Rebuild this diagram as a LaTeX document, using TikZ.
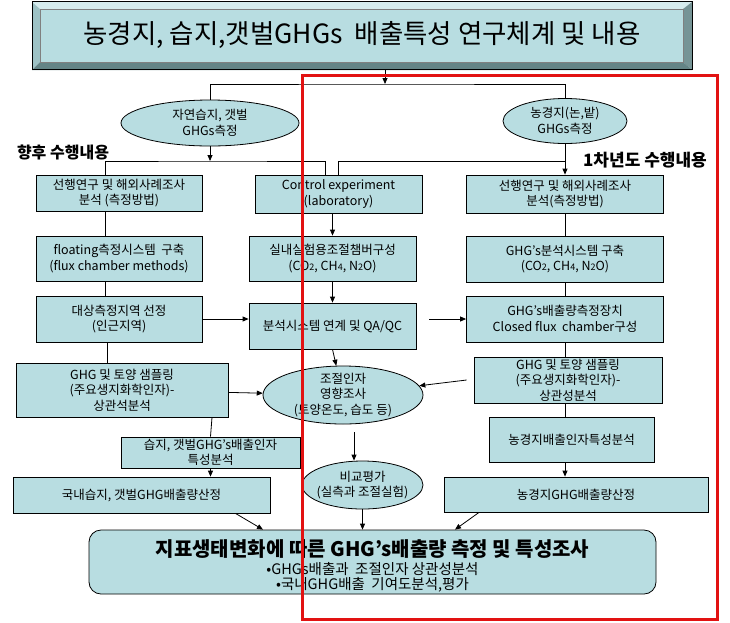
\documentclass[tikz,border=0pt]{standalone}
\usepackage{fontspec}
\setmainfont{Noto Sans CJK KR}
\usepackage{tikz}
\usetikzlibrary{arrows.meta,shapes.geometric,calc}

\definecolor{boxfill}{RGB}{184,221,225}
\definecolor{bevtop}{RGB}{214,236,238}
\definecolor{bevleft}{RGB}{158,194,197}
\definecolor{bevright}{RGB}{118,148,150}
\definecolor{bevbot}{RGB}{100,132,134}
\definecolor{markred}{RGB}{226,18,18}

\newcommand{\dig}[1]{{\fontsize{9}{9}\selectfont #1}}

\begin{document}
\begin{tikzpicture}[x=1pt,y=-1pt,line width=0.8pt,
  >={Triangle[length=6pt,width=5pt]},
  box/.style={draw, fill=boxfill, align=center, inner sep=0pt, font=\fontsize{12.5}{15.5}\selectfont},
  oval/.style={draw, fill=boxfill, ellipse, inner sep=0pt},
  ovaltext/.style={align=center, inner sep=0pt, font=\fontsize{12.5}{15.5}\selectfont},
  note/.style={inner sep=0pt, font=\bfseries}]
\useasboundingbox (0,0) rectangle (730,622);

% title plate
\fill[bevtop] (32,2) -- (692,2) -- (683,9) -- (40,9) -- cycle;
\fill[bevleft] (32,2) -- (40,9) -- (40,62) -- (32,70) -- cycle;
\fill[bevright] (692,2) -- (692,70) -- (683,62) -- (683,9) -- cycle;
\fill[bevbot] (32,70) -- (692,70) -- (683,62) -- (40,62) -- cycle;
\fill[boxfill] (40,9) rectangle (683,62);
\draw[line width=0.4pt, gray] (40,9) rectangle (683,62);
\node[draw, minimum width=660pt, minimum height=68pt, inner sep=0pt, font=\fontsize{26.5}{30}\selectfont] (title) at (362,35) {농경지, 습지,갯벌GHGs\ \ 배출특성 연구체계 및 내용};

\coordinate (jt) at (385,84);
\coordinate (jl) at (210,161);
\coordinate (jr) at (565,161);

\node[oval, minimum width=178pt, minimum height=46pt, label={[ovaltext]center:자연습지, 갯벌\\GHGs측정}] (EL) at (210,123) {};
\node[oval, minimum width=124pt, minimum height=45pt, label={[ovaltext]center:농경지(논,밭)\\GHGs측정}] (ER) at (565,121) {};

\node[note, font=\fontsize{16}{18}\selectfont\bfseries] (lnote) at (63,152) {향후 수행내용};
\node[note, font=\fontsize{17}{19}\selectfont\bfseries] (rnote) at (645,160) {1차년도 수행내용};

% left column
\node[box, minimum width=166pt, minimum height=36pt] (L1) at (119,193) {선행연구 및 해외사례조사\\분석 (측정방법)};
\node[box, minimum width=166pt, minimum height=45pt] (L2) at (119,258.5) {floating측정시스템\ \ 구축\\(flux chamber methods)};
\node[box, minimum width=166pt, minimum height=46pt] (L3) at (119,319) {대상측정지역 선정\\(인근지역)};
\node[box, minimum width=212pt, minimum height=54pt] (L4) at (122,390) {GHG 및 토양 샘플링\\(주요생지화학인자)-\\상관석분석};
\node[box, minimum width=179pt, minimum height=31pt] (L5) at (210.5,452.5) {습지, 갯벌GHG's배출인자\\특성분석};
\node[box, minimum width=257pt, minimum height=36pt] (L6) at (141.5,495) {국내습지, 갯벌GHG배출량산정};

% middle column
\node[box, minimum width=167pt, minimum height=38pt] (M1) at (338.5,194) {Control experiment\\(laboratory)};
\node[box, minimum width=167pt, minimum height=45pt] (M2) at (332.5,258.5) {실내실험용조절챔버구성\\(CO\dig{2}, CH\dig{4}, N\dig{2}O)};
\node[box, minimum width=167pt, minimum height=46pt] (M3) at (332.5,326) {분석시스템 연계 및 QA/QC};
\node[oval, minimum width=160pt, minimum height=58pt, label={[ovaltext]center:조절인자\\영향조사\\(토양온도, 습도 등)}] (E1) at (343,395) {};
\node[oval, minimum width=121pt, minimum height=48pt, label={[ovaltext]center:비교평가\\(실측과 조절실험)}] (E2) at (362.5,485) {};

% right column
\node[box, minimum width=197pt, minimum height=38pt] (R1) at (565,194) {선행연구 및 해외사례조사\\분석(측정방법)};
\node[box, minimum width=197pt, minimum height=46pt] (R2) at (565,259) {GHG's분석시스템 구축\\(CO\dig{2}, CH\dig{4}, N\dig{2}O)};
\node[box, minimum width=197pt, minimum height=46pt] (R3) at (565,319) {GHG's배출량측정장치\\Closed flux\ \ chamber구성};
\node[box, minimum width=188pt, minimum height=46pt] (R4) at (568,380) {GHG 및 토양 샘플링\\(주요생지화학인자)-\\상관성분석};
\node[box, minimum width=165pt, minimum height=45pt] (R5) at (571.5,439.5) {농경지배출인자특성분석};
\node[box, minimum width=264pt, minimum height=35pt] (R6) at (576,494.5) {농경지GHG배출량산정};

% result
\node[box, rounded corners=12pt, minimum width=567pt, minimum height=64pt,
  label={[ovaltext, yshift=-4pt, font=\fontsize{14.5}{15.5}\selectfont]center:{\fontsize{20}{22}\selectfont\bfseries 지표생태변화에 따른 GHG’s배출량 측정 및 특성조사}\\[2pt]•GHGs배출과\ \ 조절인자 상관성분석\\•국내GHG배출\ \ 기여도분석,평가}] (B) at (372.5,562) {};

% top branching
\draw[->] (title.south -| jt) -- (jt);
\draw (EL.north) |- (jt) -| (ER.north);
\draw[->] (EL) -- (jl);
\draw ([xshift=-14pt]L1.north) |- (jl) -| ([xshift=-13.5pt]M1.north);
\draw (M1.north) |- (jr);
\draw[->] (ER) -- (R1);

% left links
\draw ([xshift=-14pt]L1.south) -- ([xshift=-14pt]L2.north);
\draw ([xshift=-14pt]L2.south) -- ([xshift=-14pt]L3.north);
\draw ([xshift=-12pt]L3.south) -- ([xshift=-15pt]L4.north);
\draw ([xshift=90pt]L4.south) -- (L5.north);
\draw[->] (L5.south) -- (L5.south |- L6.north);

% middle links
\draw[->] (M1.south -| M2) -- (M2);
\draw[->] (M2) -- (M3);
\draw[->] (L3) -- (L3 -| M3.west);
\draw[->] ([xshift=13pt]M3.east |- R3) -- (R3);
\draw[->] (M3.south) -- (E1);
\draw[->] (L4) -- (E1);
\draw[->] ([xshift=-7pt]R4.west) -- (E1);
\draw[->] ([xshift=11pt,yshift=-8pt]E1.south) -- ([xshift=-8.5pt]E2.north);

% right links
\draw (R1) -- (R2);
\draw (R2) -- (R3);
\draw (R3.south) -- (R3.south |- R4.north);
\draw (R4.south -| R3) -- (R5.north -| R3);
\draw[->] (R5.south -| R3) -- (R6.north -| R3);

% into result
\draw[->] ([xshift=94pt]L6.south) -- ([xshift=-109.5pt]B.north);
\draw[->] (E2) -- (E2 |- B.north);
\draw[->] ([xshift=-97pt]R6.south) -- ([xshift=82.5pt]B.north);

% first-year frame
\draw[markred, line width=3pt] (302,75) rectangle (717,619);
\end{tikzpicture}
\end{document}
